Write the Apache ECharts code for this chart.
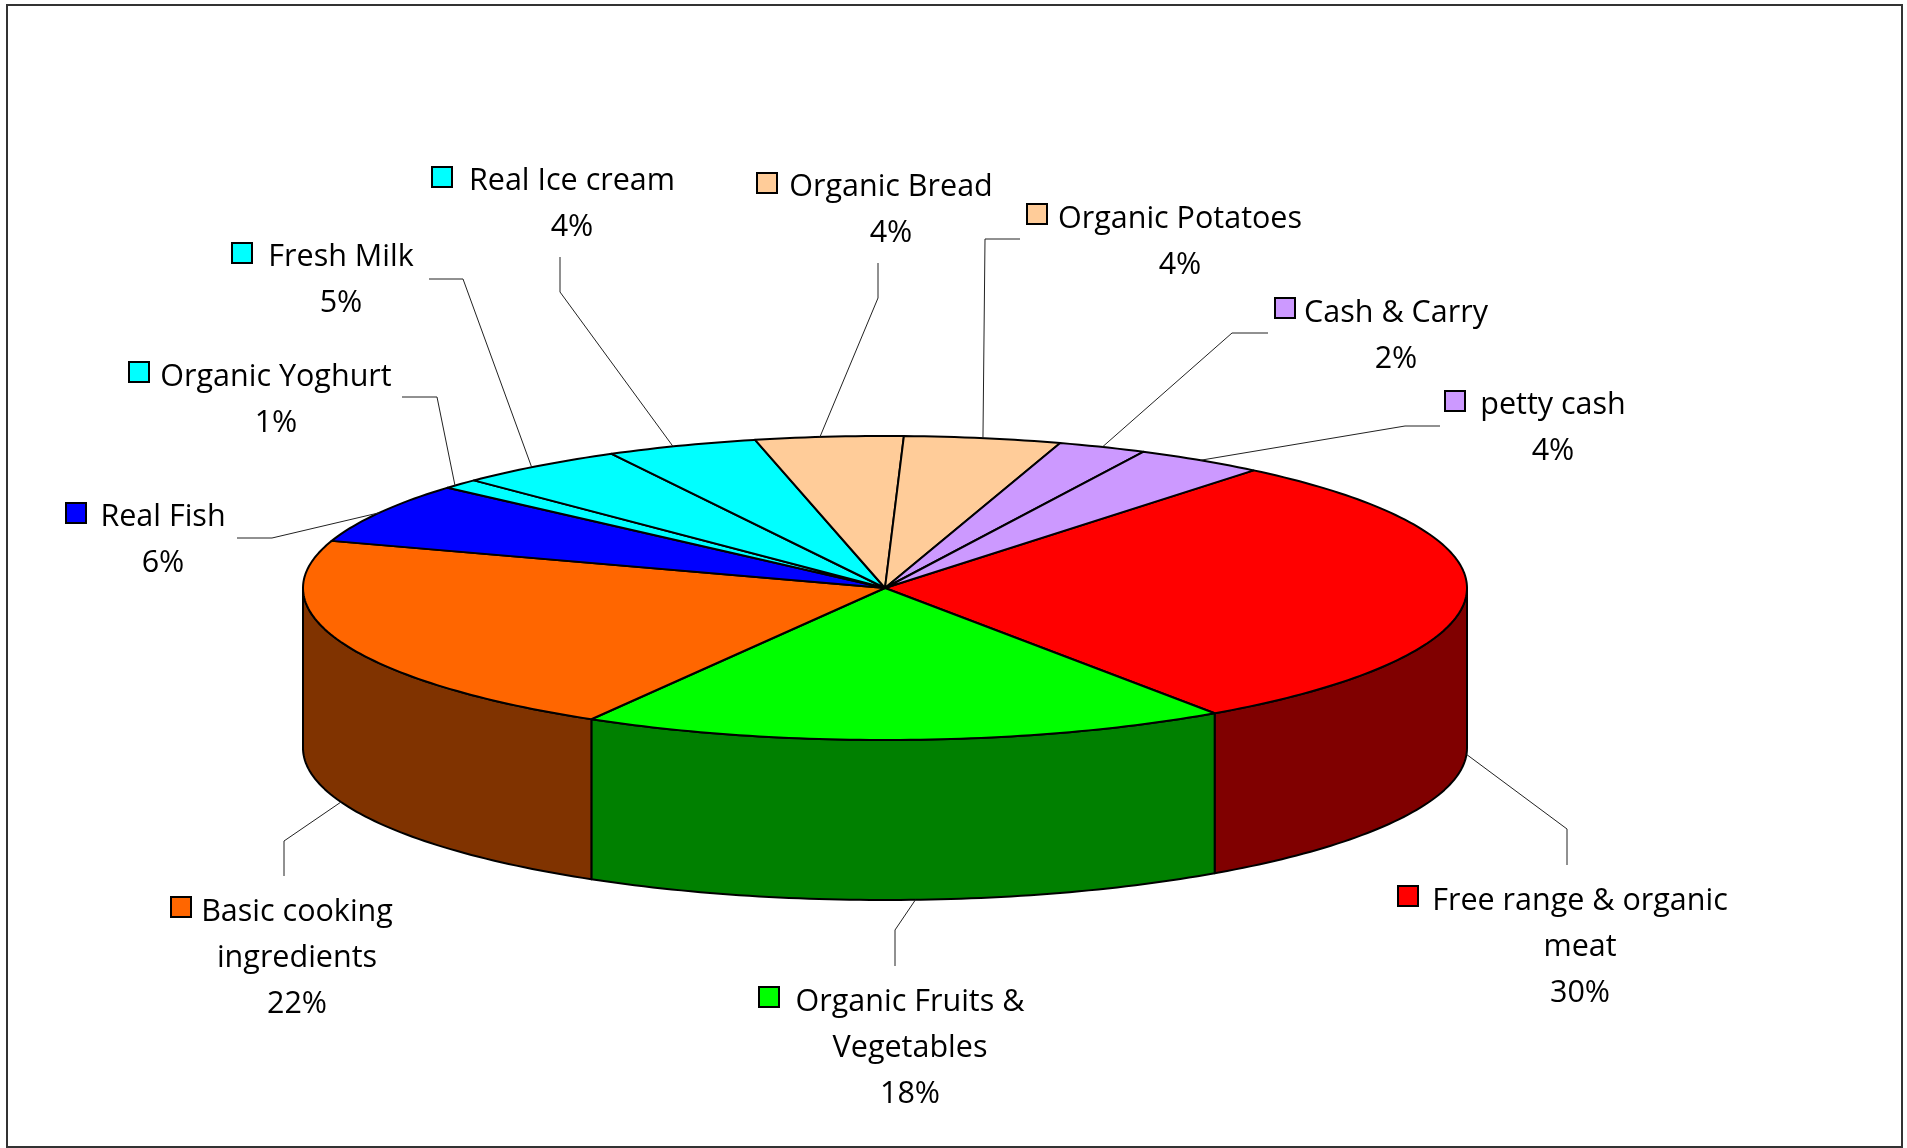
<!DOCTYPE html>
<html>
<head>
<meta charset="utf-8">
<title>Spending shares</title>
<style>
  html, body { margin: 0; height: 100%; background: #fff; }
  #chart { width: 1907px; height: 1148px; }
</style>
<script src="https://cdn.jsdelivr.net/npm/echarts@6/dist/echarts.min.js"></script>
</head>
<body>
<div id="chart"></div>
<script>
// clockwise from the red slice, as in the picture
const sliceNames = [
  'Free range & organic\nmeat', 'Organic Fruits &\nVegetables', 'Basic cooking\ningredients',
  'Real Fish', 'Organic Yoghurt', 'Fresh Milk', 'Real Ice cream',
  'Organic Bread', 'Organic Potatoes', 'Cash & Carry', 'petty cash'
];
const sliceShares = [29.5, 18, 21.6, 6.45, 1.05, 4.7, 4.2, 4.1, 4.35, 2.45, 3.6];

const topColors = ['#FF0000', '#00FF00', '#FF6600', '#0000FF', '#00FFFF', '#00FFFF', '#00FFFF', '#FFCC99', '#FFCC99', '#CC99FF', '#CC99FF'];
const wallColors = ['#800000', '#008000', '#803300'];

// label placement: key left, key top, text centre x, first line centre y
const labelPlaces = [
  [1398, 886, 1580, 899], [759, 987, 910, 1000], [171, 897, 297, 910],
  [66, 503, 163, 515], [129, 362, 276, 375], [232, 243, 341, 255], [432, 167, 572, 179],
  [757, 173, 891, 185], [1027, 204, 1180, 217], [1275, 298, 1396, 311], [1445, 391, 1553, 403]
];
// leader line: outer end, then elbow; the inner end comes from the slice
const leaderPoints = [
  [[1567, 865], [1567, 829]], [[895, 966], [895, 930]], [[284, 876], [284, 841]],
  [[237, 538], [272, 538]], [[402, 397], [437, 397]], [[429, 279], [463, 279]], [[560, 257], [560, 292]],
  [[878, 263], [878, 298]], [[1020, 239], [985, 239]], [[1268, 333], [1232, 333]], [[1440, 426], [1405, 426]]
];
// small nudge of where a leader meets its slice, degrees from the slice middle
const leaderNudge = [0, -0.9, 0, 0, -0.8, -0.9, -0.9, -0.9, 0, 0, 0];

const cx = 885, cy = 588, rx = 582, ry = 152, depth = 160;
const startAngle = -50.7;
const fontFamily = '"Open Sans"';

const total = sliceShares.reduce((a, b) => a + b, 0);
const spans = [];
let cursor = startAngle;
sliceShares.forEach(v => {
  const end = cursor + v / total * 360;
  spans.push([cursor, end]);
  cursor = end;
});

const onEllipse = (deg, dy = 0) => {
  const r = deg * Math.PI / 180;
  return [cx + rx * Math.cos(r), cy + ry * Math.sin(r) + dy];
};
const arcPoints = (a0, a1, dy = 0) => {
  const pts = [];
  for (let a = a0; a < a1; a += 1) pts.push(onEllipse(a, dy));
  pts.push(onEllipse(a1, dy));
  return pts;
};

const renderWall = (params) => {
  const [s, e] = spans[params.dataIndex];
  const a0 = Math.max(s, 0), a1 = Math.min(e, 180);
  if (a1 <= a0) return { type: 'group', children: [] };
  const points = arcPoints(a0, a1).concat(arcPoints(a0, a1, depth).reverse());
  return {
    type: 'polygon',
    shape: { points },
    style: { fill: wallColors[params.dataIndex], stroke: '#000', lineWidth: 2, lineJoin: 'round' }
  };
};

const renderTop = (params) => {
  const [s, e] = spans[params.dataIndex];
  return {
    type: 'polygon',
    shape: { points: [[cx, cy]].concat(arcPoints(s, e)) },
    style: { fill: topColors[params.dataIndex], stroke: '#000', lineWidth: 2, lineJoin: 'round' }
  };
};

const renderLabel = (params, api) => {
  const i = params.dataIndex;
  const [s, e] = spans[i];
  const mid = (s + e) / 2 + leaderNudge[i];
  // slices on the near side hang their leader off the bottom of the wall
  const inner = onEllipse(mid, mid < 180 ? depth : 0);
  const [keyX, keyY, textX, textY] = labelPlaces[i];
  const percent = Math.round(api.value(0) / total * 100) + '%';
  return {
    type: 'group',
    children: [
      {
        type: 'polyline',
        shape: { points: leaderPoints[i].concat([inner]) },
        style: { fill: 'none', stroke: '#222', lineWidth: 1 }
      },
      {
        type: 'rect',
        shape: { x: keyX, y: keyY, width: 20, height: 20 },
        style: { fill: topColors[i], stroke: '#000', lineWidth: 2 }
      },
      {
        type: 'text',
        x: textX,
        y: textY - 21,
        style: {
          text: sliceNames[i] + '\n' + percent,
          fill: '#000',
          font: '30.5px ' + fontFamily,
          lineHeight: 46,
          align: 'center',
          verticalAlign: 'top'
        }
      }
    ]
  };
};

const seriesData = sliceShares.map((v, i) => ({ name: sliceNames[i], value: [v] }));

const myChart = echarts.init(document.getElementById('chart'));
myChart.setOption({
  animation: false,
  backgroundColor: '#fff',
  graphic: [{
    type: 'rect',
    shape: { x: 7, y: 5, width: 1895, height: 1142 },
    style: { fill: 'none', stroke: '#333', lineWidth: 2 }
  }],
  series: [
    { type: 'custom', coordinateSystem: 'none', renderItem: renderWall, data: seriesData, silent: true, z: 2 },
    { type: 'custom', coordinateSystem: 'none', renderItem: renderTop, data: seriesData, silent: true, z: 3 },
    { type: 'custom', coordinateSystem: 'none', renderItem: renderLabel, data: seriesData, silent: true, z: 4 }
  ]
});
</script>
</body>
</html>
